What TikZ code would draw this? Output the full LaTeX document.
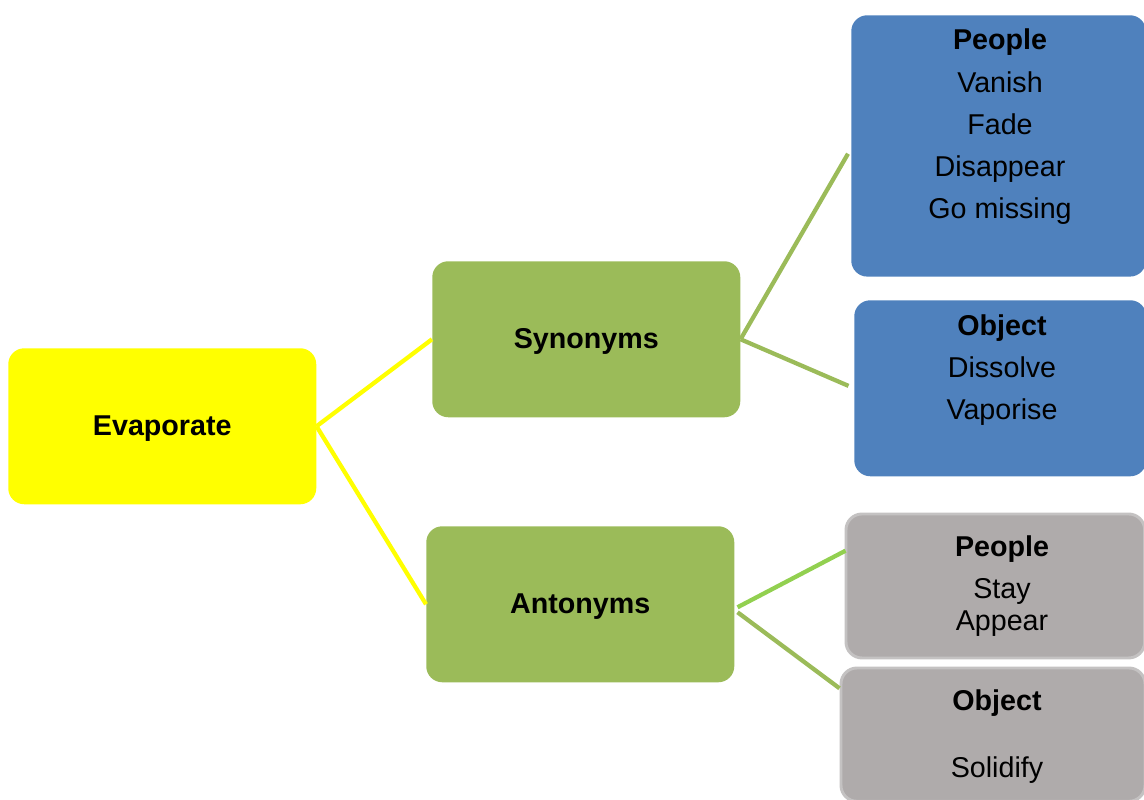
\documentclass[tikz,border=0pt]{standalone}
\usepackage{fontspec}
\setmainfont{Liberation Sans}
\usetikzlibrary{calc}
\definecolor{sunyellow}{HTML}{FFFF00}
\definecolor{leafgreen}{HTML}{9BBB59}
\definecolor{limegreen}{HTML}{92D050}
\definecolor{steelblue}{HTML}{4F81BD}
\definecolor{stonegray}{HTML}{AFABAB}
\definecolor{stoneedge}{HTML}{C4C2C2}
\tikzset{
  box/.style={rectangle, rounded corners=12pt, inner sep=0pt, anchor=north west,
    font=\fontsize{21.5}{26}\selectfont\bfseries},
  mainbox/.style={box, fill=sunyellow, minimum width=231pt, minimum height=117pt,
    text height=16pt, text depth=2.5pt},
  midbox/.style={mainbox, fill=leafgreen},
  bluebox/.style={box, fill=steelblue},
  graybox/.style={box, fill=stonegray, draw=stoneedge, line width=2.2pt},
  word/.style={anchor=base, inner sep=0pt, font=\fontsize{21.5}{26}\selectfont},
  head/.style={word, font=\fontsize{21.5}{26}\selectfont\bfseries},
  link/.style={line width=3.2pt},
}
\begin{document}
\begin{tikzpicture}[x=0.75pt, y=-0.75pt]
\useasboundingbox (0,0) rectangle (1144,799);

% central word and the two branches
\node[mainbox] (evap) at (8,348) {Evaporate};
\node[midbox] (syn) at (432,261) {Synonyms};
\node[midbox] (ant) at (426,526) {Antonyms};

% synonym groups
\node[bluebox, minimum width=221pt, minimum height=196pt] (sp) at (851,15) {};
\node[bluebox, minimum width=219pt, minimum height=132pt] (so) at (854,300) {};

% antonym groups
\node[graybox, minimum width=224pt, minimum height=108pt] (ap) at (844.5,512.5) {};
\node[graybox, minimum width=228pt, minimum height=100pt] (ao) at (839.5,666.5) {};

% texts of the synonym groups
\node[head] (spt) at (1000,50) {People};
\node[word] (sp1) at (1000,92) {Vanish};
\node[word] (sp2) at (1000,134) {Fade};
\node[word] (sp3) at (1000,176) {Disappear};
\node[word] (sp4) at (1000,218) {Go missing};

\node[head] (sot) at (1002,335) {Object};
\node[word] (so1) at (1002,377) {Dissolve};
\node[word] (so2) at (1002,419) {Vaporise};

% texts of the antonym groups
\node[head] (apt) at (1002,556) {People};
\node[word] (ap1) at (1002,598) {Stay};
\node[word] (ap2) at (1002,630) {Appear};

\node[head] (aot) at (997,710) {Object};
\node[word] (ao1) at (997,777) {Solidify};

% connectors
\draw[link, sunyellow] (evap.east) -- (syn.west);
\draw[link, sunyellow] (evap.east) -- (ant.west);
\draw[link, leafgreen, shorten >=4.5pt] (syn.east) -- ($(sp.north west)!0.51!(sp.south west)$);
\draw[link, leafgreen, shorten >=4.5pt] (syn.east) -- (so.west);
\draw[link, limegreen] ($(ant.east)+(3,3)$) -- ($(ap.north west)!0.26!(ap.south west)+(1,0)$);
\draw[link, leafgreen] ($(ant.east)+(3,8)$) -- ($(ao.north west)!0.16!(ao.south west)$);
\end{tikzpicture}
\end{document}
